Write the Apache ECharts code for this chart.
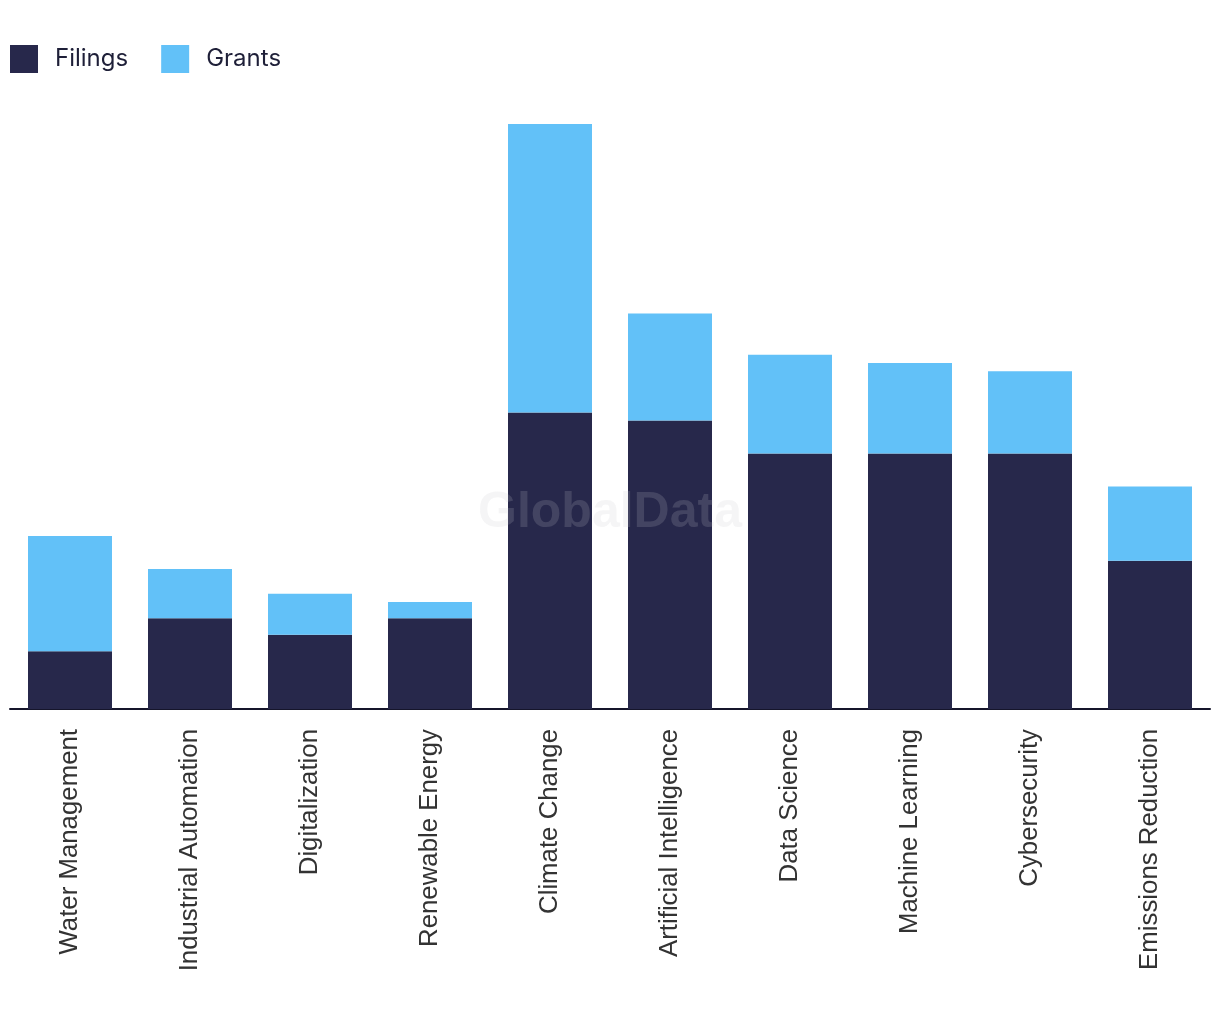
<!DOCTYPE html>
<html>
<head>
<meta charset="utf-8">
<style>
  html, body { margin: 0; padding: 0; background: #ffffff; }
  #chart { width: 1220px; height: 1020px; }
</style>
<script src="https://cdn.jsdelivr.net/npm/echarts@6/dist/echarts.min.js"></script>
</head>
<body>
<div id="chart"></div>
<script>
const categories = [
  "Water Management", "Industrial Automation", "Digitalization", "Renewable Energy",
  "Climate Change", "Artificial Intelligence", "Data Science", "Machine Learning",
  "Cybersecurity", "Emissions Reduction"
];
const filings = [7, 11, 9, 11, 36, 35, 31, 31, 31, 18];
const grants  = [14, 6, 5, 2, 35, 13, 12, 11, 10, 9];
const seriesNames = ["Filings", "Grants"];

const chart = echarts.init(document.getElementById('chart'), null, { renderer: 'canvas' });
chart.setOption({
  backgroundColor: '#ffffff',
  animation: false,
  legend: {
    left: 10,
    top: 45,
    padding: 0,
    itemWidth: 28,
    itemHeight: 28,
    itemGap: 33,
    icon: 'rect',
    data: seriesNames,
    textStyle: {
      fontFamily: 'Inter, "Noto Sans", sans-serif',
      fontSize: 24,
      color: '#1e1f38',
      padding: [0, 0, 0, 12]
    }
  },
  grid: { left: 10, right: 10, top: 124, bottom: 311, containLabel: false },
  xAxis: {
    type: 'category',
    data: categories,
    axisLine: { show: true, lineStyle: { color: '#15152b', width: 2 } },
    axisTick: { show: false },
    axisLabel: {
      rotate: 90,
      margin: 20,
      interval: 0,
      fontFamily: '"Liberation Sans", Arial, sans-serif',
      fontSize: 25.8,
      color: '#333333'
    }
  },
  yAxis: {
    type: 'value',
    min: 0,
    max: 71,
    show: false,
    splitLine: { show: false }
  },
  graphic: [{
    type: 'text',
    left: 'center',
    top: 488,
    z: 100,
    style: {
      text: 'GlobalData',
      font: 'bold 50px "Liberation Sans", Arial, sans-serif',
      fill: 'rgba(200,200,205,0.18)'
    }
  }],
  series: [
    {
      name: seriesNames[0], type: 'bar', stack: 'total', data: filings,
      barWidth: '70%',
      itemStyle: { color: '#27284b' }
    },
    {
      name: seriesNames[1], type: 'bar', stack: 'total', data: grants,
      barWidth: '70%',
      itemStyle: { color: '#62c1f8' }
    }
  ]
});
</script>
</body>
</html>
